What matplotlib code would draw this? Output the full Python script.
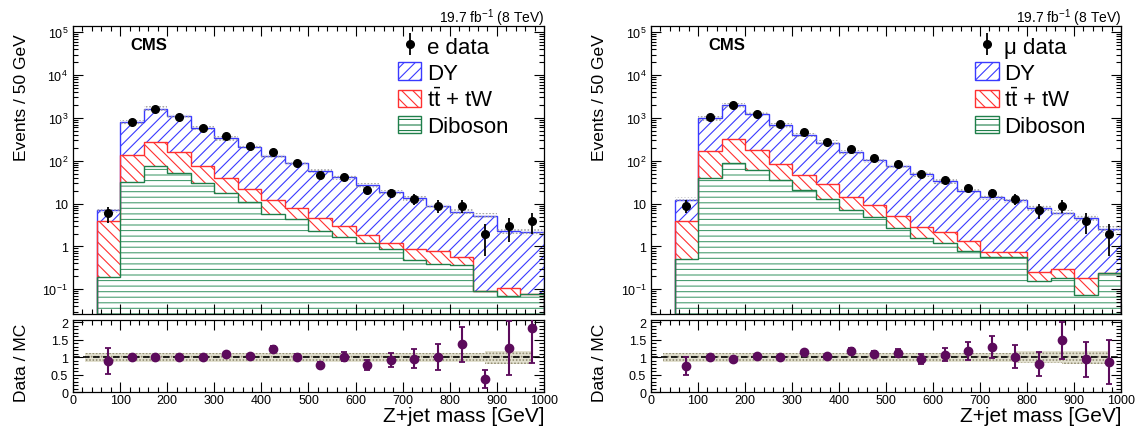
"""
Z+jet mass distributions in the electron and muon channels,
stacked MC (DY, ttbar + tW, diboson) with data and a Data/MC ratio pad.
"""

import numpy as np
import matplotlib.pyplot as plt
from matplotlib.patches import Patch
from matplotlib.ticker import MultipleLocator, LogLocator, NullFormatter

plt.rcParams['font.family'] = ['Liberation Sans', 'DejaVu Sans']
plt.rcParams['mathtext.fontset'] = 'custom'
plt.rcParams['mathtext.rm'] = 'Liberation Sans'
plt.rcParams['mathtext.it'] = 'Liberation Sans:italic'
plt.rcParams['mathtext.bf'] = 'Liberation Sans:bold'
plt.rcParams['hatch.linewidth'] = 0.8

# 50 GeV bins from 50 to 1000 GeV
mass_edges = np.arange(50, 1001, 50)

# ---- electron channel (events / 50 GeV) ----
e_data = [6, 800, 1650, 1050, 590, 370, 225, 160, 89, 47,
          41, 21, 18, 13, 9, 9, 2, 3, 4]
e_data_err = [2.4, 28, 41, 32, 24, 19, 15, 12.6, 9.4, 6.9,
              6.4, 4.6, 4.2, 3.6, 3.0, 3.0, 1.4, 1.7, 2.0]
e_dy = [3.0, 653, 1380, 937, 508, 295, 192, 115, 81, 54.5,
        38, 25.3, 17.2, 12.4, 7.8, 5.9, 5.16, 2.23, 2.06]
e_tt = [3.81, 107.5, 196, 106, 47, 22.3, 10.9, 6.5, 3.4, 2.16,
        1.31, 0.64, 0.34, 0.38, 0.41, 0.19, 0.0, 0.036, 0.0]
e_vv = [0.19, 31.5, 74, 52, 30, 17.7, 10.7, 5.7, 4.4, 2.34,
        1.64, 1.21, 0.87, 0.49, 0.39, 0.37, 0.093, 0.071, 0.078]
e_ratio = [0.89, 1.0, 1.0, 1.0, 1.02, 1.08, 1.03, 1.23, 1.0, 0.79,
           1.02, 0.77, 0.92, 0.96, 1.02, 1.37, 0.38, 1.26, 1.84]
e_ratio_err = [0.38, 0.04, 0.03, 0.04, 0.04, 0.06, 0.07, 0.08, 0.09, 0.08,
               0.14, 0.14, 0.2, 0.28, 0.37, 0.5, 0.27, 0.77, 1.0]
e_mc_unc = [0.13, 0.13, 0.13, 0.13, 0.13, 0.13, 0.13, 0.13, 0.13, 0.13,
            0.13, 0.13, 0.13, 0.13, 0.13, 0.13, 0.13, 0.18, 0.19]

# ---- muon channel ----
mu_data = [9, 1030, 1990, 1265, 720, 465, 270, 190, 113, 86,
           48, 35, 23, 18, 13, 7, 9, 4, 2]
mu_data_err = [3.0, 32, 45, 36, 27, 22, 16, 14, 10.6, 9.3,
               6.9, 5.9, 4.8, 4.2, 3.6, 2.6, 3.0, 2.0, 1.4]
mu_dy = [8.4, 828, 1681, 1090, 597, 358, 238, 145.5, 93.5, 69.4,
         46.2, 31.3, 18.8, 13.3, 11.4, 7.85, 5.9, 4.5, 2.26]
mu_tt = [3.4, 132, 230, 113, 51.3, 24.7, 15, 7.5, 4.5, 2.35,
         1.2, 0.98, 0.52, 0.18, 0.18, 0.09, 0.12, 0.108, 0.0]
mu_vv = [0.50, 40, 89, 62, 34.7, 20.9, 13, 7.0, 5.0, 2.75,
         1.6, 1.22, 0.80, 0.56, 0.56, 0.16, 0.18, 0.072, 0.245]
mu_ratio = [0.74, 1.0, 0.96, 1.03, 1.01, 1.14, 1.03, 1.17, 1.1, 1.12,
            0.95, 1.07, 1.17, 1.3, 1.02, 0.81, 1.48, 0.94, 0.86]
mu_ratio_err = [0.26, 0.04, 0.03, 0.04, 0.05, 0.06, 0.06, 0.08, 0.09, 0.12,
                0.13, 0.19, 0.26, 0.32, 0.32, 0.35, 0.53, 0.49, 0.63]
mu_mc_unc = [0.13, 0.13, 0.13, 0.13, 0.13, 0.13, 0.13, 0.13, 0.13, 0.13,
             0.13, 0.13, 0.13, 0.13, 0.13, 0.17, 0.17, 0.19, 0.19]

decades = [1e-1, 1, 10, 1e2, 1e3, 1e4, 1e5]
decade_labels = ['10$^{-1}$', '1', '10', '10$^{2}$', '10$^{3}$', '10$^{4}$', '10$^{5}$']

BLUE = '#3a3aff'
RED = '#ff3030'
GREEN = '#1f7f4a'
GREEN_H = '#4a9e72'
PURPLE = '#5c0b5c'
YMIN, YMAX = 0.0265, 1.4e5


def style_axes(ax):
    ax.tick_params(which='both', direction='in', top=True, right=True,
                   labelsize=9, colors='black', width=0.8)
    ax.tick_params(which='major', length=7)
    ax.tick_params(which='minor', length=3.5)
    for sp in ax.spines.values():
        sp.set_linewidth(0.9)


def draw_channel(ax, rax, data, data_err, dy, tt, vv, ratio, ratio_err,
                 mc_unc, lep):
    centers = 0.5 * (mass_edges[1:] + mass_edges[:-1])
    vv_top = np.array(vv)
    tt_top = vv_top + np.array(tt)
    dy_top = tt_top + np.array(dy)
    unc = np.array(mc_unc)

    # Panel 1 - hatched stack
    ax.stairs(vv_top, mass_edges, baseline=YMIN, fill=True, facecolor='white',
              edgecolor=GREEN_H, hatch='---', lw=0)
    ax.stairs(tt_top, mass_edges, baseline=vv_top, fill=True, facecolor='white',
              edgecolor=RED, hatch='\\\\\\', lw=0)
    ax.stairs(dy_top, mass_edges, baseline=tt_top, fill=True, facecolor='white',
              edgecolor=BLUE, hatch='///', lw=0)
    ax.stairs(dy_top, mass_edges, baseline=YMIN, color=BLUE, lw=1.0)
    ax.stairs(tt_top, mass_edges, baseline=YMIN, color=RED, lw=1.0)
    ax.stairs(vv_top, mass_edges, baseline=YMIN, color=GREEN, lw=1.0)
    # MC stat uncertainty on the total
    ax.stairs(dy_top * (1 + unc), mass_edges, baseline=dy_top * (1 - unc),
              fill=True, facecolor='none', edgecolor='#a0a0a0', hatch='.....',
              lw=0, zorder=3)

    eb = ax.errorbar(centers, data, yerr=data_err, fmt='o', color='black',
                     ms=5.5, elinewidth=1.3, capsize=0, zorder=5)

    ax.set_yscale('log')
    ax.set_xlim(0, 1000)
    ax.set_ylim(YMIN, YMAX)
    ax.set_yticks(decades, labels=decade_labels)
    ax.yaxis.set_minor_locator(LogLocator(base=10, subs=np.arange(2, 10), numticks=20))
    ax.yaxis.set_minor_formatter(NullFormatter())
    ax.xaxis.set_major_locator(MultipleLocator(100))
    ax.xaxis.set_minor_locator(MultipleLocator(20))
    ax.tick_params(labelbottom=False)
    style_axes(ax)
    ax.set_ylabel('Events / 50 GeV', fontsize=12.5, loc='top')
    ax.yaxis.set_label_coords(-0.093, 0.975)

    ax.text(0.121, 0.934, 'CMS', transform=ax.transAxes, fontsize=12,
            fontweight='bold', va='center', ha='left')
    ax.text(1.0, 1.014, '19.7 fb$^{-1}$ (8 TeV)', transform=ax.transAxes,
            fontsize=10, ha='right', va='baseline')

    handles = [
        eb,
        Patch(facecolor='white', edgecolor=BLUE, hatch='///', lw=1),
        Patch(facecolor='white', edgecolor=RED, hatch='\\\\\\', lw=1),
        Patch(facecolor='white', edgecolor=GREEN, hatch='---', lw=1),
    ]
    labels = [f'{lep} data', 'DY', 't$\\bar{\\mathrm{t}}$ + tW', 'Diboson']
    ax.legend(handles, labels, loc='upper left', bbox_to_anchor=(0.69, 0.965),
              frameon=False, fontsize=16, borderpad=0, borderaxespad=0,
              handlelength=1.05, handleheight=0.85, handletextpad=0.25,
              labelspacing=0.2)

    # Panel 2 - Data / MC
    band_edges = mass_edges - 25
    rax.stairs(1 + unc, band_edges, baseline=1 - unc, fill=True,
               facecolor='#e2e0cf', edgecolor='#8f8a70', hatch='.....', lw=0)
    rax.axhline(1, color='black', ls=(0, (4, 2)), lw=1.2)
    rax.errorbar(centers, ratio, yerr=ratio_err, fmt='o', color=PURPLE,
                 ms=6, elinewidth=1.5, capsize=2.5, capthick=1.3, zorder=5)
    rax.set_xlim(0, 1000)
    rax.set_ylim(0, 2.07)
    rax.yaxis.set_major_locator(MultipleLocator(0.5))
    rax.yaxis.set_minor_locator(MultipleLocator(0.1))
    rax.set_yticks([0, 0.5, 1, 1.5, 2], labels=['0', '0.5', '1', '1.5', '2'])
    rax.xaxis.set_major_locator(MultipleLocator(100))
    rax.xaxis.set_minor_locator(MultipleLocator(20))
    style_axes(rax)
    rax.tick_params(axis='x', pad=1)
    rax.set_ylabel('Data / MC', fontsize=12.5)
    rax.yaxis.set_label_coords(-0.093, 0.42)
    rax.set_xlabel('Z+jet mass [GeV]', fontsize=15, loc='right')
    rax.xaxis.set_label_coords(1.0, -0.185)


fig = plt.figure(figsize=(11.35, 4.27), dpi=100)
ax_e = fig.add_axes([0.0643, 0.2623, 0.4150, 0.6745])
rax_e = fig.add_axes([0.0643, 0.0789, 0.4150, 0.1700])
ax_mu = fig.add_axes([0.5736, 0.2623, 0.4141, 0.6745])
rax_mu = fig.add_axes([0.5736, 0.0789, 0.4141, 0.1700])

draw_channel(ax_e, rax_e, e_data, e_data_err, e_dy, e_tt, e_vv,
             e_ratio, e_ratio_err, e_mc_unc, 'e')
draw_channel(ax_mu, rax_mu, mu_data, mu_data_err, mu_dy, mu_tt, mu_vv,
             mu_ratio, mu_ratio_err, mu_mc_unc, 'μ')

fig.savefig('out.png', dpi=100)
